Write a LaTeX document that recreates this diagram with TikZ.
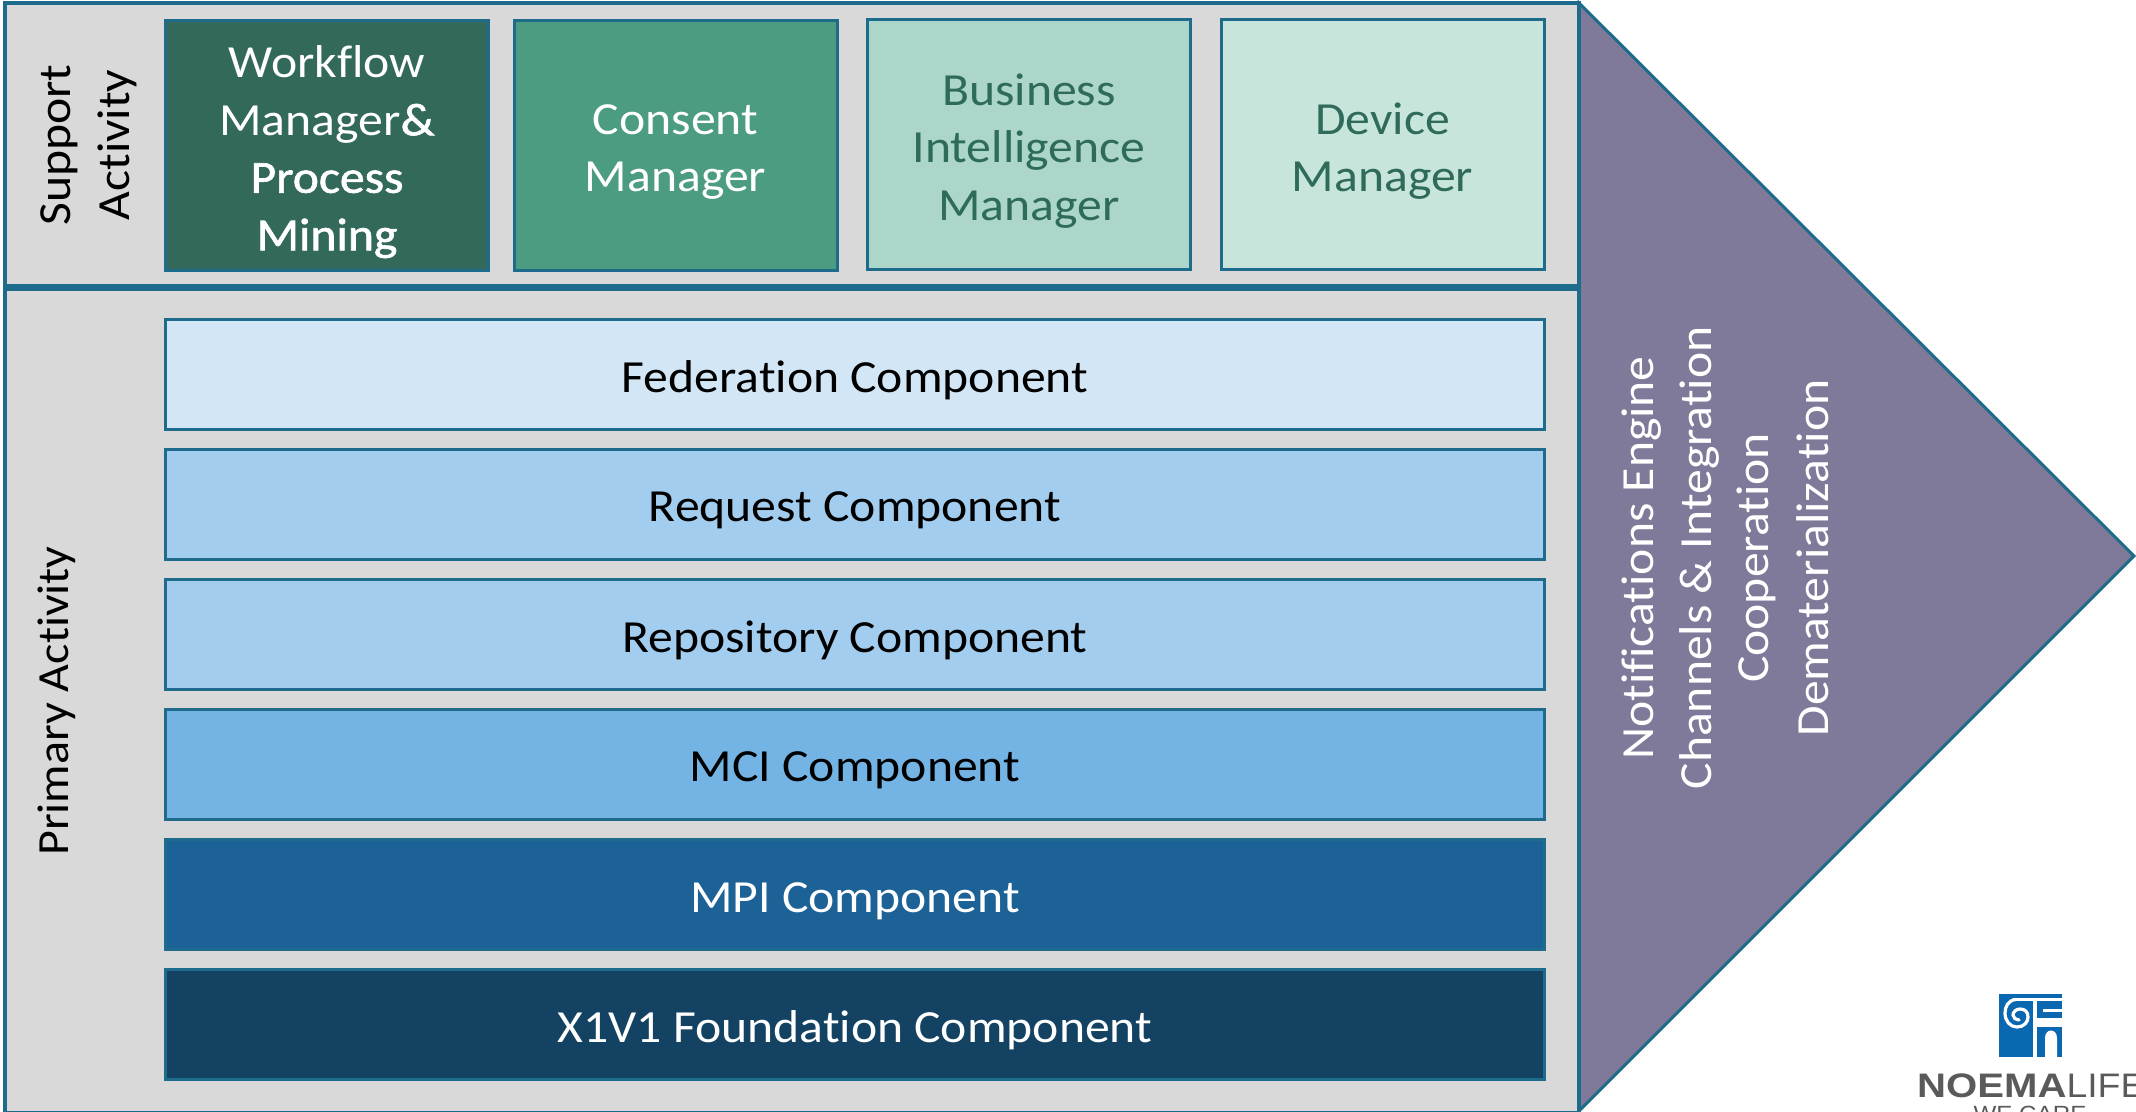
\documentclass[tikz,border=0pt]{standalone}
\usepackage{fontspec}
\setmainfont{Carlito}[FakeStretch=1.08,Ligatures=NoCommon]
\newfontface\semibold{Carlito}[FakeStretch=1.08,FakeBold=1.4,Ligatures=NoCommon]
\newfontface\logofont{Liberation Sans Bold}[FakeStretch=1.18]
\newfontface\logolight{Liberation Sans}[FakeStretch=1.1]
\newcommand{\lowered}[1]{\raisebox{-6.5pt}[\height][\depth]{#1}}
\newcommand{\lowstack}[1]{\raisebox{-7pt}[\height][\depth]{\parbox{318pt}{\centering #1}}}
\definecolor{edge}{HTML}{1F6B8C}
\definecolor{panel}{HTML}{D9D9D9}
\definecolor{arrowfill}{HTML}{7F7A99}
\definecolor{gA}{HTML}{33695A}
\definecolor{gB}{HTML}{4C9C82}
\definecolor{gC}{HTML}{ABD6C9}
\definecolor{gD}{HTML}{C8E5DC}
\definecolor{gtext}{HTML}{2F6B5A}
\definecolor{bA}{HTML}{D2E6F5}
\definecolor{bB}{HTML}{A3CDEE}
\definecolor{bC}{HTML}{74B4E4}
\definecolor{bD}{HTML}{1C6296}
\definecolor{bE}{HTML}{144262}
\definecolor{logoblue}{HTML}{0A68B0}
\definecolor{logogray}{HTML}{5A5A5C}
\tikzset{
  x=1pt,y=-1pt,
  panelbox/.style={draw=edge,fill=panel,line width=3.5pt},
  topbox/.style={draw=edge,line width=3pt,minimum width=323pt,minimum height=250pt,inner sep=0pt,align=center,font=\fontsize{46}{57.5}\selectfont},
  barbox/.style={draw=edge,line width=3pt,minimum width=1379pt,minimum height=110pt,inner sep=0pt,align=center,font=\fontsize{46}{55}\selectfont},
  sidetext/.style={rotate=90,inner sep=0pt,align=center,font=\fontsize{46}{59}\selectfont},
}
\begin{document}
\begin{tikzpicture}
\useasboundingbox (0,0) rectangle (2136,1111);
\clip (0,0) rectangle (2136,1111);
\draw[draw=edge,fill=arrowfill,line width=3pt,line join=miter] (1579,3) -- (2134,556) -- (1579,1111) -- cycle;
\draw[panelbox] (5,3) rectangle (1579,286);
\draw[panelbox] (5,289) rectangle (1579,1113);
% top boxes
\node[topbox,fill=gA,text=white] (wf) at (327,145) {\lowstack{Workflow\\Manager{\semibold\&}\\{\semibold Process}\\{\semibold Mining}}};
\node[topbox,fill=gB,text=white] (cm) at (675.5,145) {\lowstack{Consent\\Manager}};
\node[topbox,fill=gC,text=gtext] (bi) at (1029,144) {\lowstack{Business\\Intelligence\\Manager}};
\node[topbox,fill=gD,text=gtext] (dm) at (1382.5,144) {\lowstack{Device\\Manager}};
% bars
\node[barbox,fill=bA,text=black] (fed) at (855,374) {\lowered{Federation Component}};
\node[barbox,fill=bB,text=black] (req) at (855,504) {\lowered{Request Component}};
\node[barbox,fill=bB,text=black] (rep) at (855,634) {\lowered{Repository Component}};
\node[barbox,fill=bC,text=black] (mci) at (855,764) {\lowered{MCI Component}};
\node[barbox,fill=bD,text=white] (mpi) at (855,894.5) {\lowered{MPI Component}};
\node[barbox,fill=bE,text=white] (x1) at (855,1024) {\lowered{X1V1 Foundation Component}};
% side labels
\node[sidetext,text=black] (sa) at (89,145) {Support\\Activity};
\node[sidetext,text=black,font=\fontsize{44.5}{59}\selectfont] (pa) at (57,701) {Primary Activity};
\node[sidetext,text=white] (n1) at (1642,558) {Notifications Engine};
\node[sidetext,text=white] (n2) at (1699,558) {Channels \& Integration};
\node[sidetext,text=white] (n3) at (1756,558) {Cooperation};
\node[sidetext,text=white] (n4) at (1813,558) {Dematerialization};
% logo
\fill[logoblue] (1999,994) rectangle (2062,1057);
\begin{scope}[white]
\fill (2013,998) rectangle (2062,1001);
\fill (2033,1000) rectangle (2037,1057);
\fill (2043,1009) rectangle (2062,1012);
\fill (2037,1018) rectangle (2062,1027);
\fill (2045,1057) -- (2045,1038) .. controls (2045,1028) and (2057,1028) .. (2057,1038) -- (2057,1057) -- cycle;
\draw[line width=3.2pt,line cap=round] (2016,999.5) .. controls (2008,1000) and (2005,1007) .. (2005,1013) .. controls (2005,1021) and (2010,1027) .. (2017,1027) .. controls (2024,1027) and (2028,1022) .. (2028,1017) .. controls (2028,1012) and (2025,1009) .. (2020,1009) .. controls (2016,1009) and (2013,1012) .. (2013,1015) .. controls (2013,1018) and (2016,1020) .. (2019,1020);
\end{scope}
\node[anchor=base west,inner sep=0pt,font=\fontsize{34}{34}\selectfont,text=logogray] (lg) at (1917,1097) {{\logofont NOEMA}{\logolight LIFE}};
\node[anchor=base,inner sep=0pt,font=\logolight\fontsize{22}{22}\selectfont,text=logogray] (wc) at (2030,1121) {WE CARE};
\end{tikzpicture}
\end{document}
